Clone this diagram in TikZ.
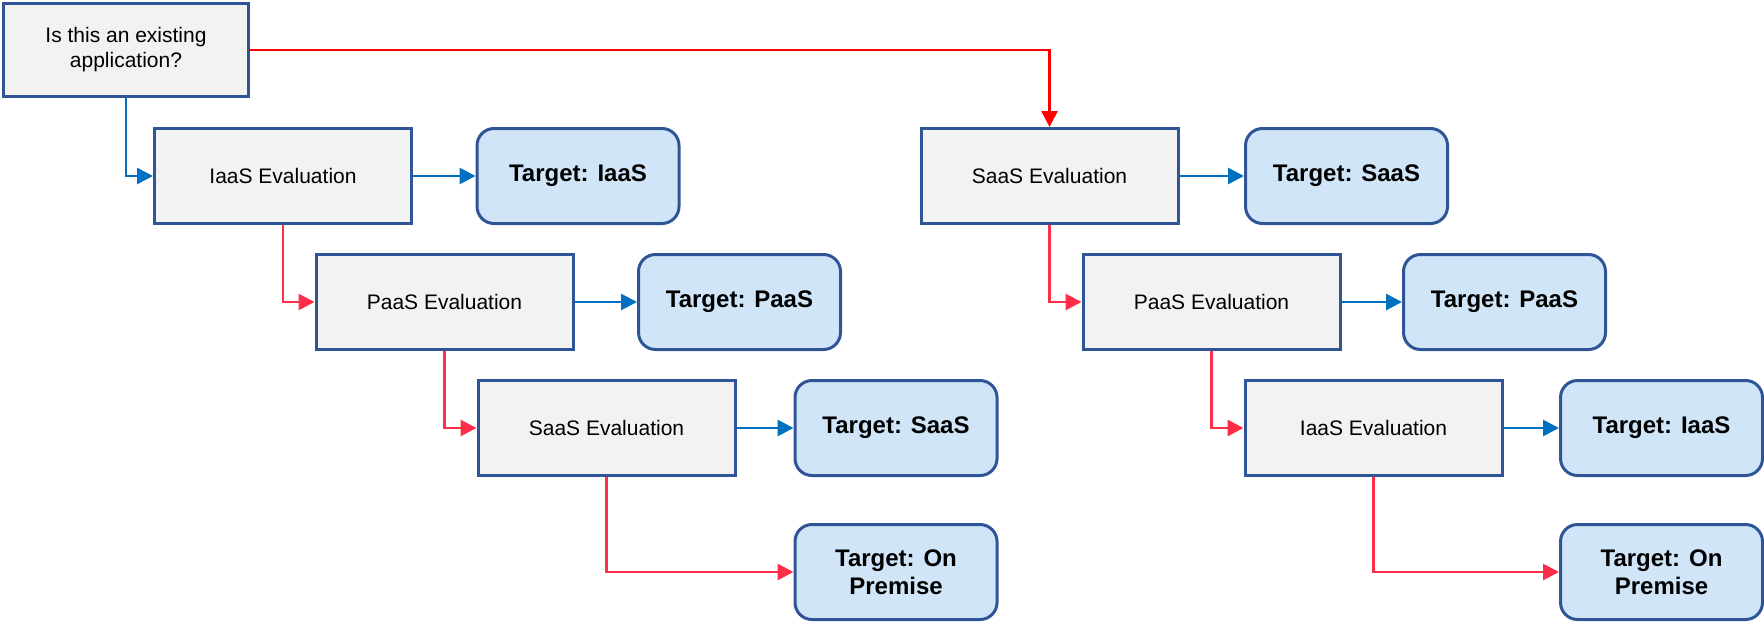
\documentclass[tikz,border=0pt]{standalone}
\usepackage{fontspec}
\setmainfont{Liberation Sans}
\usetikzlibrary{arrows.meta}
\definecolor{boxline}{HTML}{2F5597}
\definecolor{boxfill}{HTML}{F2F2F2}
\definecolor{tgtfill}{HTML}{D0E6F8}
\definecolor{yesblue}{HTML}{0070C0}
\definecolor{noredtop}{HTML}{FF0000}
\definecolor{nored}{HTML}{FF2D48}
\tikzset{
  evalbox/.style={draw=boxline, fill=boxfill, line width=1.5pt,
    minimum width=128.5pt, minimum height=47.5pt, inner sep=2pt,
    font=\fontsize{10.5}{12.5}\selectfont, align=center},
  qbox/.style={evalbox, minimum width=122.5pt, minimum height=46.5pt},
  tgtbox/.style={draw=boxline, fill=tgtfill, line width=1.5pt, rounded corners=8.5pt,
    minimum width=101pt, minimum height=47.5pt, inner sep=2pt,
    font=\bfseries\fontsize{12}{14}\selectfont, align=center},
  yesarrow/.style={draw=yesblue, line width=1.4pt, -{Triangle[length=8pt,width=8pt]}},
  noarrow/.style={draw=nored, line width=1.4pt, -{Triangle[length=8pt,width=8pt]}},
  noarrowtop/.style={draw=noredtop, line width=1.4pt, -{Triangle[length=8pt,width=8pt]}},
}
\begin{document}
\begin{tikzpicture}[x=0.5pt, y=-0.5pt]
\useasboundingbox (0,0) rectangle (1764,621);

% start question
\node[qbox] (q) at (126,50) {Is this an existing\\application?};

% branch for existing applications
\node[evalbox] (e1) at (283,176) {IaaS Evaluation};
\node[tgtbox]  (t1) at (578,176) {Target: IaaS};
\node[evalbox] (e2) at (444.5,302) {PaaS Evaluation};
\node[tgtbox]  (t2) at (739.5,302) {Target: PaaS};
\node[evalbox] (e3) at (606.5,428) {SaaS Evaluation};
\node[tgtbox]  (t3) at (896,428) {Target: SaaS};
\node[tgtbox]  (t4) at (896,572) {Target: On\\Premise};

% branch for new applications
\node[evalbox] (r1) at (1049.5,176) {SaaS Evaluation};
\node[tgtbox]  (u1) at (1346.5,176) {Target: SaaS};
\node[evalbox] (r2) at (1211.5,302) {PaaS Evaluation};
\node[tgtbox]  (u2) at (1504.5,302) {Target: PaaS};
\node[evalbox] (r3) at (1373.5,428) {IaaS Evaluation};
\node[tgtbox]  (u3) at (1661.5,428) {Target: IaaS};
\node[tgtbox]  (u4) at (1661.5,572) {Target: On\\Premise};

% connectors
\draw[noarrowtop] (q.east) -| (r1.north);
\draw[yesarrow] (q.south) |- (e1.west);

\draw[yesarrow] (e1.east) -- (t1.west);
\draw[noarrow]  (e1.south) |- (e2.west);
\draw[yesarrow] (e2.east) -- (t2.west);
\draw[noarrow]  (e2.south) |- (e3.west);
\draw[yesarrow] (e3.east) -- (t3.west);
\draw[noarrow]  (e3.south) |- (t4.west);

\draw[yesarrow] (r1.east) -- (u1.west);
\draw[noarrow]  (r1.south) |- (r2.west);
\draw[yesarrow] (r2.east) -- (u2.west);
\draw[noarrow]  (r2.south) |- (r3.west);
\draw[yesarrow] (r3.east) -- (u3.west);
\draw[noarrow]  (r3.south) |- (u4.west);
\end{tikzpicture}
\end{document}
